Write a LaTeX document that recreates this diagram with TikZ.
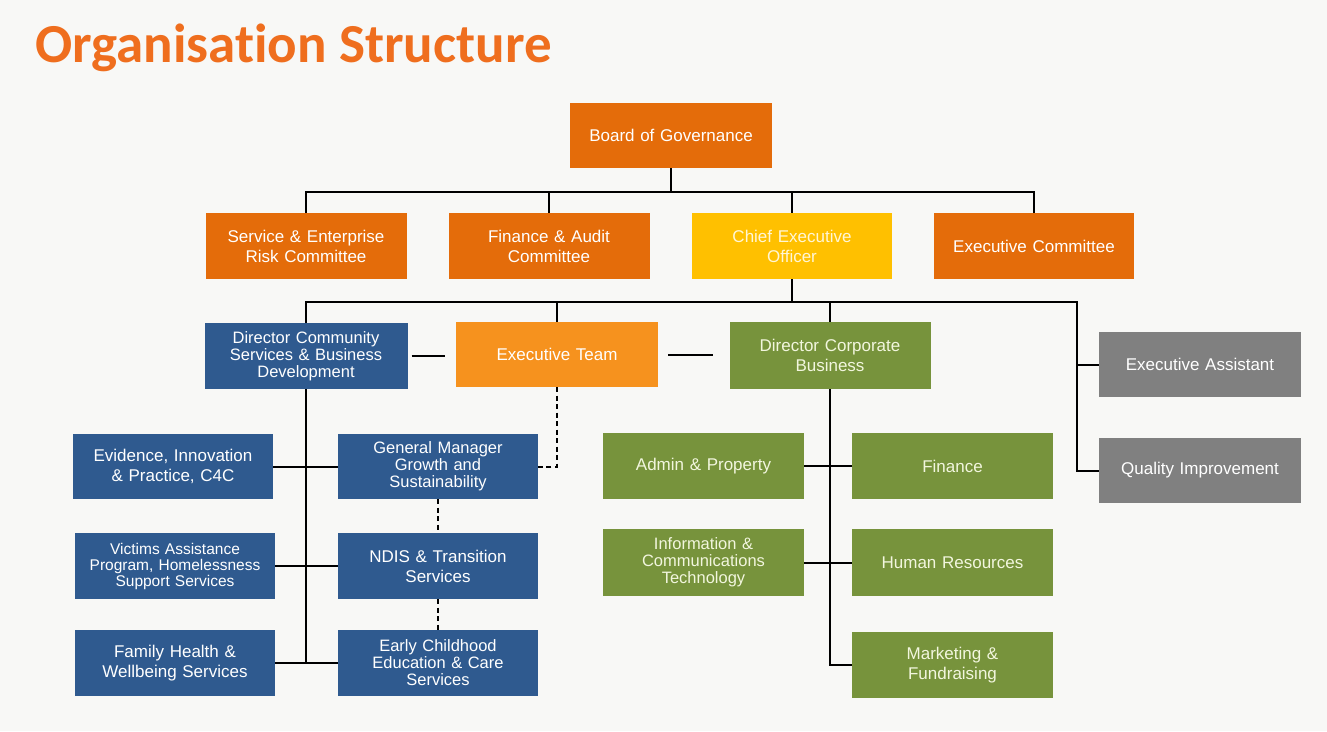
\documentclass[tikz,border=0pt]{standalone}
\usepackage{fontspec}
\setmainfont{Liberation Sans}
\newfontfamily\titlefont{Carlito}[Ligatures=NoCommon]
\definecolor{bgc}{RGB}{248,248,246}
\definecolor{titlec}{RGB}{239,110,30}
\definecolor{orgdark}{RGB}{228,108,10}
\definecolor{orglight}{RGB}{246,146,30}
\definecolor{ceoc}{RGB}{255,192,0}
\definecolor{bluec}{RGB}{47,90,143}
\definecolor{greenc}{RGB}{119,147,60}
\definecolor{greyc}{RGB}{128,128,128}
\definecolor{greentxt}{RGB}{242,246,222}
\begin{document}
\begin{tikzpicture}[x=1pt,y=-1pt,
  box/.style={inner sep=0pt, minimum width=201pt, minimum height=65pt, text width=196pt, align=center, text=white, font=\fontsize{17}{20}\selectfont},
  tight/.style={font=\fontsize{16.5}{17}\selectfont},
  small/.style={font=\fontsize{15.5}{16}\selectfont},
  orgbox/.style={box, fill=orgdark},
  etbox/.style={box, fill=orglight},
  ceobox/.style={box, fill=ceoc, text={rgb,255:red,255;green,246;blue,214}},
  bluebox/.style={box, fill=bluec},
  greenbox/.style={box, fill=greenc, text=greentxt},
  greybox/.style={box, fill=greyc},
  conn/.style={line width=2pt, black},
  dconn/.style={conn, dash pattern=on 5pt off 3.5pt}
]
\fill[bgc] (0,0) rectangle (1327,731);
\useasboundingbox (0,0) rectangle (1327,731);

\node[anchor=base west, inner sep=0pt, text=titlec, font=\titlefont\bfseries\fontsize{55}{60}\selectfont] (title) at (35,62) {Organisation Structure};

% row 1
\node[orgbox, minimum width=202pt] (board) at (671,135.5) {Board of Governance};
% row 2
\node[orgbox, minimum height=66pt] (serc) at (306,246) {Service \& Enterprise\\Risk Committee};
\node[orgbox, minimum height=66pt] (fac) at (549,246) {Finance \& Audit\\Committee};
\node[ceobox, minimum width=200pt, minimum height=66pt] (ceo) at (792,246) {Chief Executive\\Officer};
\node[orgbox, minimum width=200pt, minimum height=66pt] (execcomm) at (1034,246) {Executive Committee};
% row 3
\node[bluebox, tight, minimum width=203pt, minimum height=66pt] (dircs) at (306,356) {Director Community\\Services \& Business\\Development};
\node[etbox, minimum width=202pt] (execteam) at (557,354.5) {Executive Team};
\node[greenbox, minimum height=67pt] (dircorp) at (830,355.5) {Director Corporate\\Business};
\node[greybox, minimum width=202pt] (execasst) at (1200,364.5) {Executive Assistant};
\node[greybox, minimum width=202pt] (qi) at (1200,470.5) {Quality Improvement};
% blue column
\node[bluebox, minimum width=200pt] (evidence) at (173,466.5) {Evidence, Innovation\\\& Practice, C4C};
\node[bluebox, tight, minimum width=200pt] (gm) at (438,466.5) {General Manager\\Growth and\\Sustainability};
\node[bluebox, small, minimum width=200pt, minimum height=66pt] (victims) at (175,566) {Victims Assistance\\Program, Homelessness\\Support Services};
\node[bluebox, minimum width=200pt, minimum height=66pt] (ndis) at (438,566) {NDIS \& Transition\\Services};
\node[bluebox, minimum width=200pt, minimum height=66pt] (family) at (175,663) {Family Health \&\\Wellbeing Services};
\node[bluebox, tight, minimum width=200pt, minimum height=66pt] (early) at (438,663) {Early Childhood\\Education \& Care\\Services};
% green column
\node[greenbox, minimum height=66pt] (admin) at (703.5,466) {Admin \& Property};
\node[greenbox, minimum height=66pt] (finance) at (952.5,466) {Finance};
\node[greenbox, tight, minimum height=67pt] (ict) at (703.5,562.5) {Information \&\\Communications\\Technology};
\node[greenbox, minimum height=67pt] (hr) at (952.5,562.5) {Human Resources};
\node[greenbox, minimum height=66pt] (marketing) at (952.5,665) {Marketing \&\\Fundraising};

% board connectors
\coordinate (bh) at (671,192);
\draw[conn] (board.south) -- (bh);
\draw[conn] (serc.north) |- (bh) -| (execcomm.north);
\draw[conn] (fac.north) -- (fac.north |- bh);
\draw[conn] (ceo.north) -- (ceo.north |- bh);

% CEO connectors
\coordinate (rt) at (1077,302);
\draw[conn] (dircs.north) |- (rt) |- (qi.west);
\draw[conn] (execasst.west) -- (execasst.west -| rt);
\draw[conn] (ceo.south) -- (ceo.south |- rt);
\draw[conn] (execteam.north) -- (execteam.north |- rt);
\draw[conn] (dircorp.north) -- (dircorp.north |- rt);

% executive team links
\draw[conn] ([xshift=4pt]dircs.east) -- ([xshift=-11pt]dircs.east -| execteam.west);
\draw[conn] ([xshift=10pt]execteam.east) -- ([xshift=-16pt]execteam.east -| dircorp.west);
\draw[dconn] (execteam.south) |- (gm.east);
\draw[dconn] (gm.south) -- (ndis.north);
\draw[dconn] (ndis.south) -- (early.north);

% blue trunk
\draw[conn] (dircs.south) -- (dircs.south |- family.east);
\draw[conn] (evidence.east) -- (gm.west);
\draw[conn] (victims.east) -- (ndis.west);
\draw[conn] (family.east) -- (early.west);

% green trunk
\draw[conn] (dircorp.south) |- (marketing.west);
\draw[conn] (admin.east) -- (finance.west);
\draw[conn] (ict.east) -- (hr.west);
\end{tikzpicture}
\end{document}
